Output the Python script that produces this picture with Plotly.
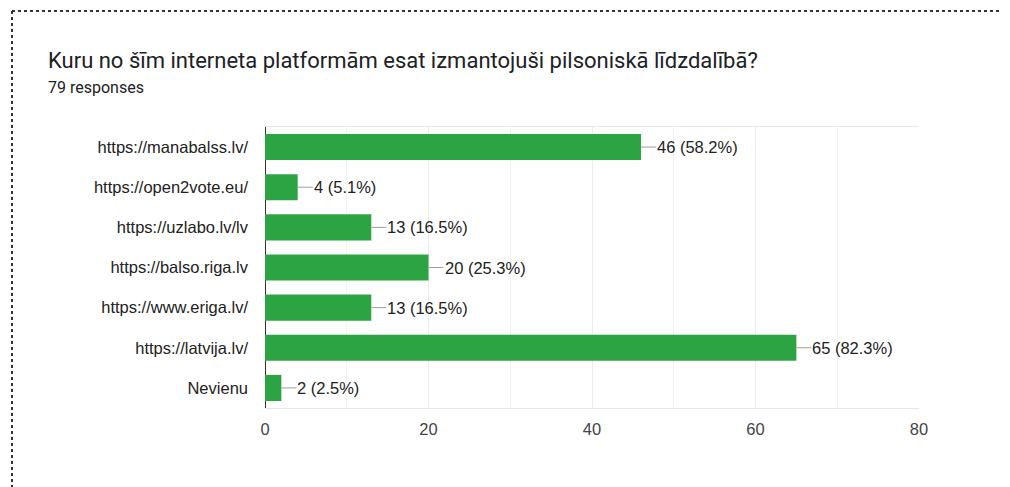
import plotly.graph_objects as go

categories = ["https://manabalss.lv/", "https://open2vote.eu/", "https://uzlabo.lv/lv",
              "https://balso.riga.lv", "https://www.eriga.lv/", "https://latvija.lv/", "Nevienu"]
counts = [46, 4, 13, 20, 13, 65, 2]
total_responses = 79
x_ticks = [0, 20, 40, 60, 80]

title_text = "Kuru no šīm interneta platformām esat izmantojuši pilsoniskā līdzdalībā?"
subtitle_text = f"{total_responses} responses"

OFF = 8  # page body margin
W, H = 1010, 487
# plot area in page pixels: x 265..919, y 127..408
L = 265 - OFF
R = W - (919 - OFF)
T = 127 - OFF
B = H - (408 - OFF)
pw, ph = W - L - R, H - T - B

def px(x):
    return (x - OFF - L) / pw

def py(y):
    return (H - B - (y - OFF)) / ph

GREEN = "#2ca444"

fig = go.Figure(go.Bar(
    x=counts, y=categories, orientation="h",
    marker=dict(color=GREEN, line=dict(width=0)),
    width=0.65, hoverinfo="skip",
))

annotations = []
for c, v in zip(categories, counts):
    pct = v / total_responses * 100
    annotations.append(dict(
        x=v, y=c, xref="x", yref="y", text=f"{v} ({pct:.1f}%)",
        showarrow=True, arrowhead=0, arrowwidth=1, arrowcolor="#9e9e9e",
        ax=15, ay=0, axref="pixel", ayref="pixel", xanchor="left", yanchor="middle",
        standoff=0, startstandoff=0, borderpad=0,
        font=dict(family="Arial, Liberation Sans", size=16.5, color="#222222"),
    ))

annotations.append(dict(
    x=px(46), y=py(60), xref="paper", yref="paper", text=title_text, showarrow=False,
    xanchor="left", yanchor="middle",
    font=dict(family="Roboto", size=22, color="#202124"),
))
annotations.append(dict(
    x=px(46), y=py(88), xref="paper", yref="paper", text=subtitle_text, showarrow=False,
    xanchor="left", yanchor="middle",
    font=dict(family="Roboto", size=16, color="#202124"),
))

shapes = [
    dict(type="line", xref="paper", yref="paper", x0=px(12), x1=px(1008), y0=py(11), y1=py(11),
         line=dict(color="#333333", width=2, dash="dot")),
    dict(type="line", xref="paper", yref="paper", x0=px(12), x1=px(12), y0=py(11), y1=py(495),
         line=dict(color="#333333", width=2, dash="dot")),
    dict(type="line", xref="paper", yref="paper", x0=px(1007), x1=px(1007), y0=py(11), y1=py(495),
         line=dict(color="#333333", width=2, dash="dot")),
]

fig.update_layout(
    width=W, height=H,
    margin=dict(l=L, r=R, t=T, b=B, autoexpand=False),
    paper_bgcolor="white", plot_bgcolor="white",
    showlegend=False,
    annotations=annotations, shapes=shapes,
    bargap=0.35,
    xaxis=dict(
        range=[0, 80], tickvals=x_ticks, showgrid=True, gridcolor="#ebebeb", gridwidth=1,
        minor=dict(dtick=10, showgrid=True, gridcolor="#f2f2f2", gridwidth=1),
        zeroline=True, zerolinecolor="#333333", zerolinewidth=1,
        showline=True, linecolor="#e8e8e8", linewidth=1, mirror=True,
        ticks="", ticklabelstandoff=6,
        tickfont=dict(family="Arial, Liberation Sans", size=16.5, color="#444444"),
        fixedrange=True,
    ),
    yaxis=dict(
        autorange="reversed", showgrid=False, showline=False, zeroline=False, ticks="",
        ticklabelstandoff=16,
        tickfont=dict(family="Arial, Liberation Sans", size=16.5, color="#222222"),
        fixedrange=True,
    ),
)

fig.write_html("out.html")
